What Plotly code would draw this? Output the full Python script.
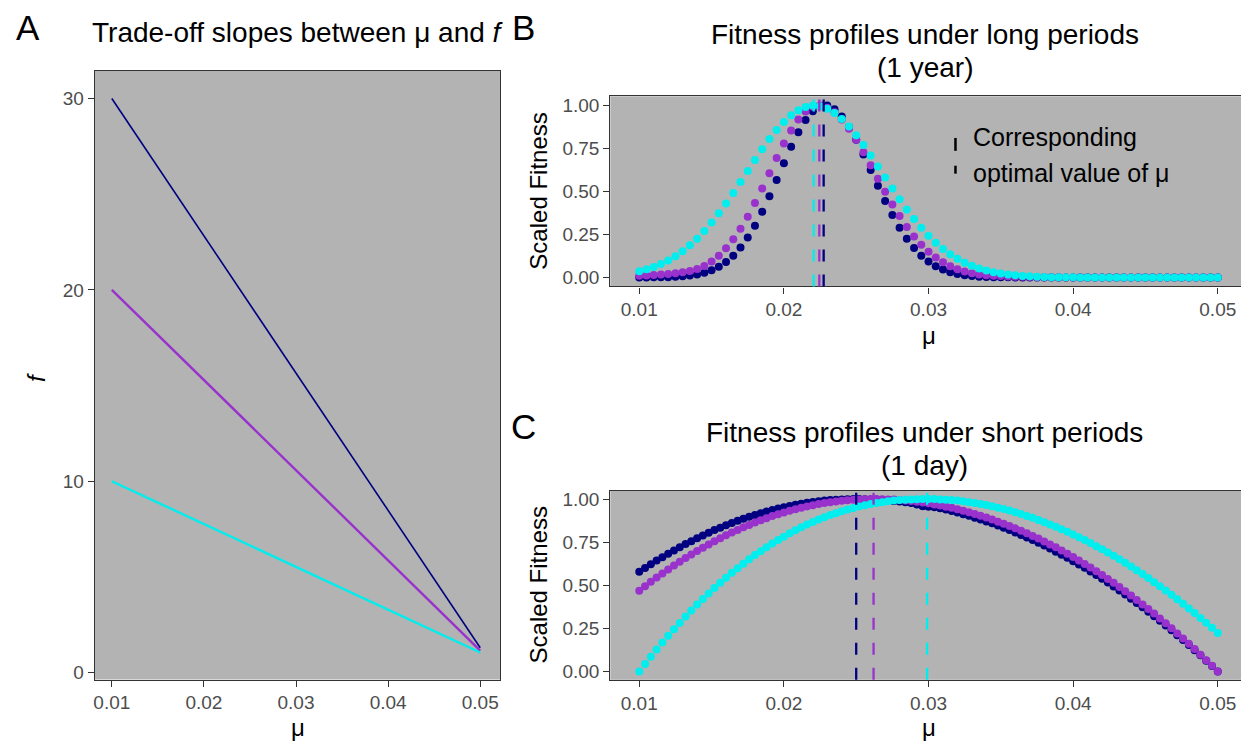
import plotly.graph_objects as go

# ---------------- data ----------------
# Panel A: trade-off lines (mu vs f)
mu_A = [0.010, 0.015, 0.020, 0.025, 0.030, 0.035, 0.040, 0.045, 0.050]
f_navy = [30.0, 26.41, 22.83, 19.24, 15.65, 12.06, 8.48, 4.89, 1.30]
f_purple = [20.0, 17.64, 15.29, 12.93, 10.58, 8.22, 5.87, 3.51, 1.15]
f_cyan = [10.0, 8.88, 7.76, 6.64, 5.53, 4.41, 3.29, 2.17, 1.05]

# Panel B: long periods (1 year)
mu_B = [0.0100, 0.0105, 0.0110, 0.0115, 0.0120, 0.0125, 0.0130, 0.0135, 0.0140, 0.0145,
        0.0150, 0.0155, 0.0160, 0.0165, 0.0170, 0.0175, 0.0180, 0.0185, 0.0190, 0.0195,
        0.0200, 0.0205, 0.0210, 0.0215, 0.0220, 0.0225, 0.0230, 0.0235, 0.0240, 0.0245,
        0.0250, 0.0255, 0.0260, 0.0265, 0.0270, 0.0275, 0.0280, 0.0285, 0.0290, 0.0295,
        0.0300, 0.0305, 0.0310, 0.0315, 0.0320, 0.0325, 0.0330, 0.0335, 0.0340, 0.0345,
        0.0350, 0.0355, 0.0360, 0.0365, 0.0370, 0.0375, 0.0380, 0.0385, 0.0390, 0.0395,
        0.0400, 0.0405, 0.0410, 0.0415, 0.0420, 0.0425, 0.0430, 0.0435, 0.0440, 0.0445,
        0.0450, 0.0455, 0.0460, 0.0465, 0.0470, 0.0475, 0.0480, 0.0485, 0.0490, 0.0495,
        0.0500]
fit_B_navy = [0.000, 0.000, 0.001, 0.001, 0.002, 0.004, 0.007, 0.011, 0.018, 0.028,
              0.042, 0.062, 0.090, 0.127, 0.174, 0.232, 0.301, 0.382, 0.472, 0.567,
              0.665, 0.760, 0.845, 0.916, 0.967, 0.998, 1.000, 0.978, 0.936, 0.876,
              0.801, 0.716, 0.625, 0.533, 0.445, 0.363, 0.289, 0.225, 0.171, 0.127,
              0.093, 0.066, 0.046, 0.031, 0.021, 0.013, 0.008, 0.005, 0.003, 0.002,
              0.001, 0.001, 0.000, 0.000, 0.000, 0.000, 0.000, 0.000, 0.000, 0.000,
              0.000, 0.000, 0.000, 0.000, 0.000, 0.000, 0.000, 0.000, 0.000, 0.000,
              0.000, 0.000, 0.000, 0.000, 0.000, 0.000, 0.000, 0.000, 0.000, 0.000,
              0.000]
fit_B_purple = [0.010, 0.012, 0.014, 0.017, 0.020, 0.024, 0.030, 0.038, 0.050, 0.067,
                0.093, 0.127, 0.170, 0.222, 0.283, 0.354, 0.433, 0.518, 0.607, 0.695,
                0.780, 0.855, 0.919, 0.966, 0.993, 1.000, 0.988, 0.961, 0.919, 0.865,
                0.801, 0.729, 0.653, 0.575, 0.499, 0.425, 0.357, 0.294, 0.239, 0.191,
                0.150, 0.116, 0.088, 0.066, 0.048, 0.035, 0.025, 0.018, 0.013, 0.010,
                0.008, 0.006, 0.005, 0.004, 0.003, 0.002, 0.002, 0.001, 0.001, 0.000,
                0.000, 0.000, 0.000, 0.000, 0.000, 0.000, 0.000, 0.000, 0.000, 0.000,
                0.000, 0.000, 0.000, 0.000, 0.000, 0.000, 0.000, 0.000, 0.000, 0.000,
                0.000]
fit_B_cyan = [0.036, 0.048, 0.061, 0.079, 0.099, 0.124, 0.153, 0.187, 0.226, 0.271,
              0.320, 0.373, 0.431, 0.492, 0.555, 0.619, 0.684, 0.746, 0.805, 0.858,
              0.905, 0.944, 0.973, 0.992, 1.000, 0.996, 0.982, 0.957, 0.922, 0.878,
              0.827, 0.770, 0.709, 0.645, 0.581, 0.517, 0.455, 0.396, 0.340, 0.290,
              0.243, 0.202, 0.166, 0.135, 0.109, 0.086, 0.068, 0.053, 0.041, 0.031,
              0.023, 0.017, 0.013, 0.009, 0.007, 0.005, 0.003, 0.002, 0.002, 0.001,
              0.001, 0.000, 0.000, 0.000, 0.000, 0.000, 0.000, 0.000, 0.000, 0.000,
              0.000, 0.000, 0.000, 0.000, 0.000, 0.000, 0.000, 0.000, 0.000, 0.000,
              0.000]
opt_B = [0.02275, 0.02245, 0.02206]   # navy, purple, cyan

# Panel C: short periods (1 day)
mu_C = [0.0100, 0.0104, 0.0108, 0.0112, 0.0116, 0.0120, 0.0124, 0.0128, 0.0132, 0.0136,
        0.0140, 0.0144, 0.0148, 0.0152, 0.0156, 0.0160, 0.0164, 0.0168, 0.0172, 0.0176,
        0.0180, 0.0184, 0.0188, 0.0192, 0.0196, 0.0200, 0.0204, 0.0208, 0.0212, 0.0216,
        0.0220, 0.0224, 0.0228, 0.0232, 0.0236, 0.0240, 0.0244, 0.0248, 0.0252, 0.0256,
        0.0260, 0.0264, 0.0268, 0.0272, 0.0276, 0.0280, 0.0284, 0.0288, 0.0292, 0.0296,
        0.0300, 0.0304, 0.0308, 0.0312, 0.0316, 0.0320, 0.0324, 0.0328, 0.0332, 0.0336,
        0.0340, 0.0344, 0.0348, 0.0352, 0.0356, 0.0360, 0.0364, 0.0368, 0.0372, 0.0376,
        0.0380, 0.0384, 0.0388, 0.0392, 0.0396, 0.0400, 0.0404, 0.0408, 0.0412, 0.0416,
        0.0420, 0.0424, 0.0428, 0.0432, 0.0436, 0.0440, 0.0444, 0.0448, 0.0452, 0.0456,
        0.0460, 0.0464, 0.0468, 0.0472, 0.0476, 0.0480, 0.0484, 0.0488, 0.0492, 0.0496,
        0.0500]
fit_C_navy = [0.578, 0.600, 0.622, 0.643, 0.663, 0.683, 0.702, 0.721, 0.739, 0.756,
              0.773, 0.789, 0.805, 0.820, 0.834, 0.848, 0.861, 0.874, 0.886, 0.897,
              0.908, 0.918, 0.928, 0.937, 0.945, 0.953, 0.960, 0.967, 0.973, 0.978,
              0.983, 0.987, 0.991, 0.994, 0.996, 0.998, 0.999, 1.000, 1.000, 0.999,
              0.998, 0.997, 0.995, 0.992, 0.989, 0.986, 0.982, 0.977, 0.968, 0.958,
              0.956, 0.953, 0.946, 0.939, 0.930, 0.922, 0.912, 0.903, 0.892, 0.882,
              0.870, 0.859, 0.846, 0.834, 0.820, 0.806, 0.792, 0.777, 0.762, 0.746,
              0.730, 0.713, 0.695, 0.677, 0.659, 0.640, 0.621, 0.601, 0.580, 0.559,
              0.538, 0.516, 0.493, 0.470, 0.446, 0.422, 0.398, 0.373, 0.347, 0.321,
              0.294, 0.267, 0.240, 0.211, 0.183, 0.154, 0.124, 0.094, 0.063, 0.032,
              0.000]
fit_C_purple = [0.469, 0.495, 0.520, 0.545, 0.569, 0.592, 0.615, 0.637, 0.658, 0.679,
                0.699, 0.718, 0.737, 0.755, 0.773, 0.790, 0.806, 0.821, 0.836, 0.850,
                0.864, 0.877, 0.889, 0.901, 0.912, 0.922, 0.932, 0.941, 0.949, 0.957,
                0.964, 0.971, 0.977, 0.982, 0.986, 0.990, 0.993, 0.996, 0.998, 0.999,
                1.000, 1.000, 0.999, 0.998, 0.997, 0.994, 0.991, 0.988, 0.984, 0.980,
                0.975, 0.969, 0.963, 0.956, 0.949, 0.941, 0.932, 0.923, 0.913, 0.903,
                0.893, 0.881, 0.869, 0.857, 0.844, 0.830, 0.816, 0.802, 0.786, 0.771,
                0.754, 0.737, 0.720, 0.702, 0.683, 0.664, 0.644, 0.624, 0.603, 0.581,
                0.559, 0.537, 0.514, 0.490, 0.466, 0.441, 0.415, 0.389, 0.363, 0.336,
                0.308, 0.280, 0.251, 0.221, 0.192, 0.161, 0.130, 0.098, 0.066, 0.033,
                0.000]
fit_C_cyan = [0.000, 0.043, 0.086, 0.127, 0.168, 0.207, 0.245, 0.282, 0.319, 0.354,
              0.388, 0.421, 0.453, 0.484, 0.515, 0.544, 0.572, 0.599, 0.625, 0.651,
              0.675, 0.698, 0.721, 0.742, 0.763, 0.782, 0.801, 0.819, 0.836, 0.852,
              0.867, 0.881, 0.894, 0.907, 0.918, 0.929, 0.939, 0.948, 0.957, 0.964,
              0.971, 0.977, 0.982, 0.987, 0.991, 0.994, 0.996, 0.998, 0.999, 1.000,
              1.000, 1.000, 0.998, 0.996, 0.994, 0.991, 0.987, 0.982, 0.977, 0.971,
              0.965, 0.958, 0.950, 0.942, 0.933, 0.923, 0.913, 0.902, 0.891, 0.879,
              0.866, 0.853, 0.840, 0.825, 0.810, 0.795, 0.779, 0.762, 0.745, 0.727,
              0.709, 0.690, 0.671, 0.651, 0.630, 0.609, 0.587, 0.565, 0.542, 0.518,
              0.494, 0.470, 0.445, 0.419, 0.393, 0.366, 0.339, 0.311, 0.283, 0.254,
              0.224]
opt_C = [0.0250, 0.0262, 0.0299]   # navy, purple, cyan

mu_ticks = [0.01, 0.02, 0.03, 0.04, 0.05]
mu_ticktext = ["0.01", "0.02", "0.03", "0.04", "0.05"]
f_ticks = [0, 10, 20, 30]
fit_ticks = [0.0, 0.25, 0.5, 0.75, 1.0]
fit_ticktext = ["0.00", "0.25", "0.50", "0.75", "1.00"]

# ---------------- style ----------------
NAVY = "#000080"
PURPLE = "#9932CC"
CYAN = "#00EEEE"
COLORS = [NAVY, PURPLE, CYAN]
PANEL_BG = "#B3B3B3"
FONT = "Liberation Sans, Arial, sans-serif"
OFF = 8                      # page body margin offset
W, H = 1249 - OFF, 746 - OFF  # figure size so the page does not overflow


def fx(p):
    return (p - OFF) / W


def fy(p):
    return 1 - (p - OFF) / H


fig = go.Figure()

# Panel A lines
for yv, c, w in zip([f_navy, f_purple, f_cyan], COLORS, [1.6, 2.4, 2.4]):
    fig.add_trace(go.Scatter(x=mu_A, y=yv, mode="lines", line=dict(color=c, width=w),
                             xaxis="x", yaxis="y", showlegend=False, hoverinfo="skip"))

# Panel B points
for yv, c in zip([fit_B_navy, fit_B_purple, fit_B_cyan], COLORS):
    fig.add_trace(go.Scatter(x=mu_B, y=yv, mode="markers",
                             marker=dict(color=c, size=8, line=dict(width=0)),
                             xaxis="x2", yaxis="y2", showlegend=False))

# Panel C points
for yv, c in zip([fit_C_navy, fit_C_purple, fit_C_cyan], COLORS):
    fig.add_trace(go.Scatter(x=mu_C, y=yv, mode="markers",
                             marker=dict(color=c, size=8, line=dict(width=0)),
                             xaxis="x3", yaxis="y3", showlegend=False))

shapes = []
for xo, c in zip(opt_B, COLORS):
    shapes.append(dict(type="line", xref="x2", yref="y2 domain", x0=xo, x1=xo, y0=0, y1=1,
                       line=dict(color=c, width=2.3, dash="12px,13px"), layer="above"))
for xo, c in zip(opt_C, COLORS):
    shapes.append(dict(type="line", xref="x3", yref="y3 domain", x0=xo, x1=xo, y0=0, y1=1,
                       line=dict(color=c, width=2.3, dash="12px,13px"), layer="above"))
# legend key (dashed black line)
shapes.append(dict(type="line", xref="paper", yref="paper", x0=fx(955), x1=fx(955),
                   y0=fy(150), y1=fy(137), line=dict(color="black", width=2.5)))
shapes.append(dict(type="line", xref="paper", yref="paper", x0=fx(955), x1=fx(955),
                   y0=fy(173), y1=fy(165), line=dict(color="black", width=2.5)))

axis_common = dict(showline=True, mirror=True, linecolor="#333333", linewidth=1.3,
                   ticks="outside", ticklen=6, tickwidth=1, tickcolor="#333333",
                   showgrid=False, zeroline=False,
                   tickfont=dict(family=FONT, size=19, color="#4D4D4D"))

fig.update_layout(
    width=W, height=H,
    margin=dict(l=0, r=0, t=0, b=0),
    paper_bgcolor="white", plot_bgcolor=PANEL_BG,
    showlegend=False,
    xaxis=dict(domain=[fx(93), fx(499)], anchor="y", range=[0.00816, 0.05217],
               tickvals=mu_ticks, ticktext=mu_ticktext, **axis_common),
    yaxis=dict(domain=[fy(683), fy(69.3)], anchor="x", range=[-0.363, 31.45],
               tickvals=f_ticks, **axis_common),
    xaxis2=dict(domain=[fx(609.3), fx(1246.7)], anchor="y2", range=[0.008, 0.052],
                tickvals=mu_ticks, ticktext=mu_ticktext, **axis_common),
    yaxis2=dict(domain=[fy(286.7), fy(95)], anchor="x2", range=[-0.052, 1.054],
                tickvals=fit_ticks, ticktext=fit_ticktext, **axis_common),
    xaxis3=dict(domain=[fx(609.3), fx(1246.7)], anchor="y3", range=[0.008, 0.052],
                tickvals=mu_ticks, ticktext=mu_ticktext, **axis_common),
    yaxis3=dict(domain=[fy(683.3), fy(492.7)], anchor="x3", range=[-0.048, 1.048],
                tickvals=fit_ticks, ticktext=fit_ticktext, **axis_common),
    shapes=shapes,
)


def ann(text, x, y, size, angle=0, xanchor="center", color="black"):
    return dict(text=text, x=fx(x), y=fy(y), xref="paper", yref="paper",
                showarrow=False, xanchor=xanchor, yanchor="middle", textangle=angle,
                font=dict(family=FONT, size=size, color=color))


annotations = [
    ann("A", 26, 26, 35),
    ann("B", 522, 26, 35),
    ann("C", 522, 428, 35),
    ann("Trade-off slopes between μ and <i>f</i>", 296, 31, 28),
    ann("Fitness profiles under long periods", 924, 33, 28),
    ann("(1 year)", 924, 66, 28),
    ann("Fitness profiles under short periods", 924, 434, 28),
    ann("(1 day)", 924, 467, 28),
    ann("<i>f</i>", 35, 378, 24, angle=-90),
    ann("μ", 296, 731, 24),
    ann("Scaled Fitness", 537, 191, 24, angle=-90),
    ann("μ", 928, 336, 24),
    ann("Scaled Fitness", 537, 588, 24, angle=-90),
    ann("μ", 928, 731, 24),
    ann("Corresponding", 971, 136, 25, xanchor="left"),
    ann("optimal value of μ", 971, 172, 25, xanchor="left"),
]
fig.update_layout(annotations=annotations)

fig.write_html("out.html")
